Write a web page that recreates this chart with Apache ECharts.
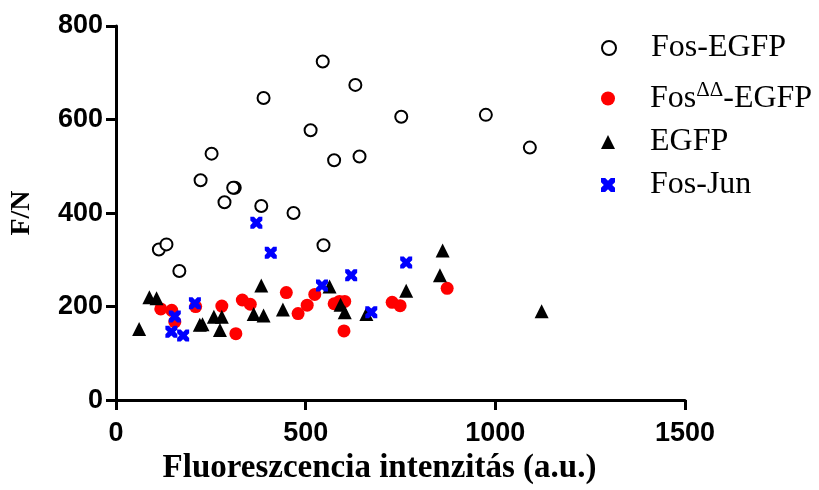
<!DOCTYPE html>
<html>
<head>
<meta charset="utf-8">
<script src="https://cdn.jsdelivr.net/npm/echarts@6/dist/echarts.min.js"></script>
<style>html,body{margin:0;padding:0;background:#fff}#c{width:819px;height:490px}</style>
</head>
<body>
<div id="c"></div>
<script>
// Data (x = fluorescence intensity, y = F/N)
const fosEgfp = [
  [545, 724], [631, 674], [389, 646], [752, 606], [513, 577], [252, 527],
  [575, 513], [642, 521], [223, 470], [313, 454], [309, 454], [286, 423],
  [383, 415], [468, 400], [975, 610], [1091, 540], [113, 322], [133, 333],
  [167, 276], [547, 331]
];
const fosDDEgfp = [
  [118, 195], [147, 192], [155, 167], [210, 200], [279, 201], [316, 142],
  [333, 214], [354, 205], [449, 230], [480, 185], [504, 203], [524, 226],
  [575, 206], [589, 211], [603, 211], [601, 148], [728, 209], [749, 202],
  [873, 239]
];
const egfp = [
  [61, 152], [88, 220], [107, 218], [221, 161], [228, 162], [258, 178],
  [279, 178], [274, 150], [363, 184], [383, 245], [389, 181], [440, 194],
  [563, 243], [592, 204], [603, 188], [660, 184], [765, 234], [861, 320],
  [854, 267], [1122, 190]
];
const fosJun = [
  [370, 379], [408, 315], [208, 207], [155, 179], [146, 146], [177, 138],
  [543, 245], [620, 267], [673, 188], [765, 294]
];
const seriesNames = ['Fos-EGFP', 'FosDD-EGFP', 'EGFP', 'Fos-Jun'];
const xTicks = [0, 500, 1000, 1500];
const yTicks = [0, 200, 400, 600, 800];

const crossPath = 'path://M0,0 L3,0 L5,2 L7,0 L10,0 L10,3 L8,5 L10,7 L10,10 L7,10 L5,8 L3,10 L0,10 L0,7 L2,5 L0,3 Z';

function legendAt(name, top, fmt) {
  return {
    data: [name], left: 596, top: top, orient: 'vertical',
    itemWidth: 14, itemHeight: 14, itemGap: 0,
    textStyle: {
      fontFamily: 'Liberation Serif', fontSize: 32, color: '#000',
      padding: [0, 0, 0, 30],
      rich: {
        n: {fontFamily: 'Liberation Serif', fontSize: 32, color: '#000'},
        s: {fontFamily: 'Liberation Serif', fontSize: 21, color: '#000', verticalAlign: 'bottom', padding: [0, 0, 16, 0]}
      }
    },
    formatter: fmt || undefined,
    selectedMode: false
  };
}

const chart = echarts.init(document.getElementById('c'), null, {renderer: 'canvas'});
chart.setOption({
  animation: false,
  backgroundColor: '#fff',
  grid: {left: 114, right: 134, top: 26, bottom: 83, containLabel: false},
  legend: [
    legendAt(seriesNames[0], 27),
    legendAt(seriesNames[1], 75, function () { return '{n|Fos}{s|ΔΔ}{n|-EGFP}'; }),
    legendAt(seriesNames[2], 121),
    legendAt(seriesNames[3], 164)
  ],
  xAxis: {
    type: 'value', min: xTicks[0], max: xTicks[xTicks.length - 1], interval: 500,
    name: 'Fluoreszcencia intenzitás (a.u.)', nameLocation: 'middle', nameGap: 48,
    nameTextStyle: {fontFamily: 'Liberation Serif', fontWeight: 'bold', fontSize: 33, color: '#000', padding: [0, 42, 0, 0]},
    axisLine: {lineStyle: {color: '#000', width: 3}},
    axisTick: {inside: false, length: 10, lineStyle: {color: '#000', width: 3}},
    axisLabel: {fontFamily: 'Liberation Sans', fontWeight: 'bold', fontSize: 27, color: '#000', margin: 20,
      formatter: function (v) { return String(v); }},
    splitLine: {show: false}
  },
  yAxis: {
    type: 'value', min: yTicks[0], max: yTicks[yTicks.length - 1], interval: 200,
    name: 'F/N', nameLocation: 'middle', nameGap: 80,
    nameTextStyle: {fontFamily: 'Liberation Serif', fontWeight: 'bold', fontSize: 28, color: '#000'},
    axisLine: {show: true, lineStyle: {color: '#000', width: 3}},
    axisTick: {show: true, inside: false, length: 10, lineStyle: {color: '#000', width: 3}},
    axisLabel: {fontFamily: 'Liberation Sans', fontWeight: 'bold', fontSize: 27, color: '#000', margin: 13,
      formatter: function (v) { return String(v); }},
    splitLine: {show: false}
  },
  series: [
    {name: seriesNames[0], type: 'scatter', data: fosEgfp, symbol: 'circle', symbolSize: 12,
     itemStyle: {color: '#fff', borderColor: '#000', borderWidth: 2, opacity: 1}},
    {name: seriesNames[1], type: 'scatter', data: fosDDEgfp, symbol: 'circle', symbolSize: 13,
     itemStyle: {color: '#ff0000', opacity: 1}},
    {name: seriesNames[2], type: 'scatter', data: egfp, symbol: 'triangle', symbolSize: 14,
     itemStyle: {color: '#000', opacity: 1}},
    {name: seriesNames[3], type: 'scatter', data: fosJun, symbol: crossPath, symbolSize: 12,
     itemStyle: {color: '#0000ff', opacity: 1}}
  ]
});
</script>
</body>
</html>
